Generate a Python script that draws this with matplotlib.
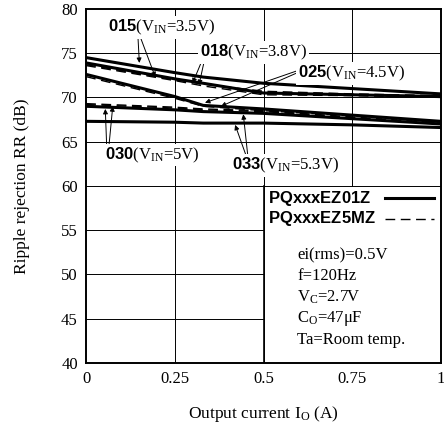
import numpy as np
import matplotlib
matplotlib.use("Agg")
import matplotlib.pyplot as plt

plt.rcParams['font.family'] = ['Liberation Serif', 'DejaVu Serif']
plt.rcParams['mathtext.fontset'] = 'custom'
plt.rcParams['mathtext.rm'] = 'Liberation Serif'
plt.rcParams['mathtext.it'] = 'Liberation Serif:italic'
plt.rcParams['mathtext.sf'] = 'Liberation Sans:bold'
plt.rcParams['mathtext.bf'] = 'Liberation Sans:bold'

# data (output current in A, ripple rejection in dB)
current = [0, 0.25, 0.33, 0.5, 0.75, 1.0]

ez01z_015 = [74.5, 72.8, 72.3, 71.6, 71.0, 70.4]
ez01z_018 = [73.9, 72.1, 71.6, 70.5, 70.3, 70.1]
ez01z_025 = [72.6, 70.1, 69.1, 68.7, 68.0, 67.3]
ez01z_030 = [69.0, 68.6, 68.4, 68.2, 67.6, 67.0]
ez01z_033 = [67.3, 67.2, 67.1, 67.1, 66.9, 66.6]

ez5mz_015 = [73.7, 72.0, 71.5, 70.7, 70.4, 70.2]
ez5mz_018 = [73.6, 71.9, 71.3, 70.3, 70.2, 70.0]
ez5mz_025 = [72.35, 69.9, 69.0, 68.5, 67.9, 67.2]
ez5mz_030 = [69.3, 68.9, 68.7, 68.5, 67.8, 67.1]
ez5mz_033 = [69.2, 68.8, 68.6, 68.4, 67.7, 67.0]

x_ticks = [0, 0.25, 0.5, 0.75, 1]
x_tick_labels = ["0", "0.25", "0.5", "0.75", "1"]
y_ticks = [40, 45, 50, 55, 60, 65, 70, 75, 80]

conditions = ["ei(rms)=0.5V", "f=120Hz", r"V$_\mathrm{C}$=2.7V",
              r"C$_\mathrm{O}$=47$\mathrm{\mu}$F", "Ta=Room temp."]

fig = plt.figure(figsize=(4.44, 4.25), dpi=100)
ax = fig.add_axes([0.194, 0.146, 0.799, 0.833])
ax.set_xlim(0, 1)
ax.set_ylim(40, 80)

# grid: the lower right quarter is kept free for the legend box
for y in y_ticks[1:-1]:
    xmax = 0.5 if y < 60 else 1.0
    ax.plot([0, xmax], [y, y], color='black', lw=0.7, zorder=1)
for x in x_ticks[1:-1]:
    ymin = 60 if x == 0.75 else 40
    ax.plot([x, x], [ymin, 80], color='black', lw=0.7, zorder=1)

solid = [ez01z_015, ez01z_018, ez01z_025, ez01z_030, ez01z_033]
dashed = [ez5mz_015, ez5mz_018, ez5mz_025, ez5mz_030, ez5mz_033]
for s in solid:
    ax.plot(current, s, color='black', lw=2.2, zorder=3, solid_capstyle='butt')
for d in dashed:
    ax.plot(current, d, color='black', lw=1.0, ls=(0, (7, 4)), zorder=4)

ax.set_xticks(x_ticks)
ax.set_xticklabels(x_tick_labels)
ax.set_yticks(y_ticks)
ax.tick_params(length=0, labelsize=12, pad=6)
for sp in ax.spines.values():
    sp.set_linewidth(1.4)

ax.set_xlabel(r"Output current I$_\mathrm{O}$ (A)", fontsize=12.5, labelpad=12)
ax.set_ylabel("Ripple rejection RR (dB)", fontsize=12.5, labelpad=22)

lab_kw = dict(fontsize=12, va='center', ha='left', zorder=6,
              bbox=dict(boxstyle='square,pad=0.1', fc='white', ec='none'))
ax.text(0.062, 77.9, r"$\mathsf{015}$(V$_\mathrm{IN}$=3.5V)", **lab_kw)
ax.text(0.321, 75.1, r"$\mathsf{018}$(V$_\mathrm{IN}$=3.8V)", **lab_kw)
ax.text(0.597, 72.7, r"$\mathsf{025}$(V$_\mathrm{IN}$=4.5V)", **lab_kw)
ax.text(0.054, 63.5, r"$\mathsf{030}$(V$_\mathrm{IN}$=5V)", **lab_kw)
ax.text(0.411, 62.3, r"$\mathsf{033}$(V$_\mathrm{IN}$=5.3V)", **lab_kw)

arr = dict(arrowstyle='-|>', color='black', lw=0.7, mutation_scale=7,
           shrinkA=0, shrinkB=0)
arrows = [
    ((0.146, 76.9), (0.150, 73.9)), ((0.152, 76.9), (0.195, 72.3)),
    ((0.328, 74.3), (0.300, 71.6)), ((0.334, 74.3), (0.318, 71.4)),
    ((0.594, 73.0), (0.335, 69.4)), ((0.596, 72.8), (0.38, 69.0)),
    ((0.058, 64.4), (0.054, 68.7)), ((0.064, 64.4), (0.075, 69.0)),
    ((0.452, 63.3), (0.42, 66.9)), ((0.456, 63.3), (0.443, 68.1)),
]
for start, tip in arrows:
    ax.annotate('', xy=tip, xytext=start, arrowprops=arr, zorder=5)

# legend box
ax.plot([0.5, 0.5], [40, 60], color='black', lw=1.2, zorder=2)
ax.text(0.514, 58.6, r"$\mathsf{PQxxxEZ01Z}$", fontsize=12, va='center')
ax.text(0.514, 56.3, r"$\mathsf{PQxxxEZ5MZ}$", fontsize=12, va='center')
ax.plot([0.843, 0.98], [58.6, 58.6], color='black', lw=2.2)
ax.plot([0.843, 0.98], [56.3, 56.3], color='black', lw=1.0, ls=(0, (7, 4)))

for i, line in enumerate(conditions):
    ax.text(0.595, 52.2 - i * 2.4, line, fontsize=12, va='center')

fig.savefig("out.png", dpi=100)
